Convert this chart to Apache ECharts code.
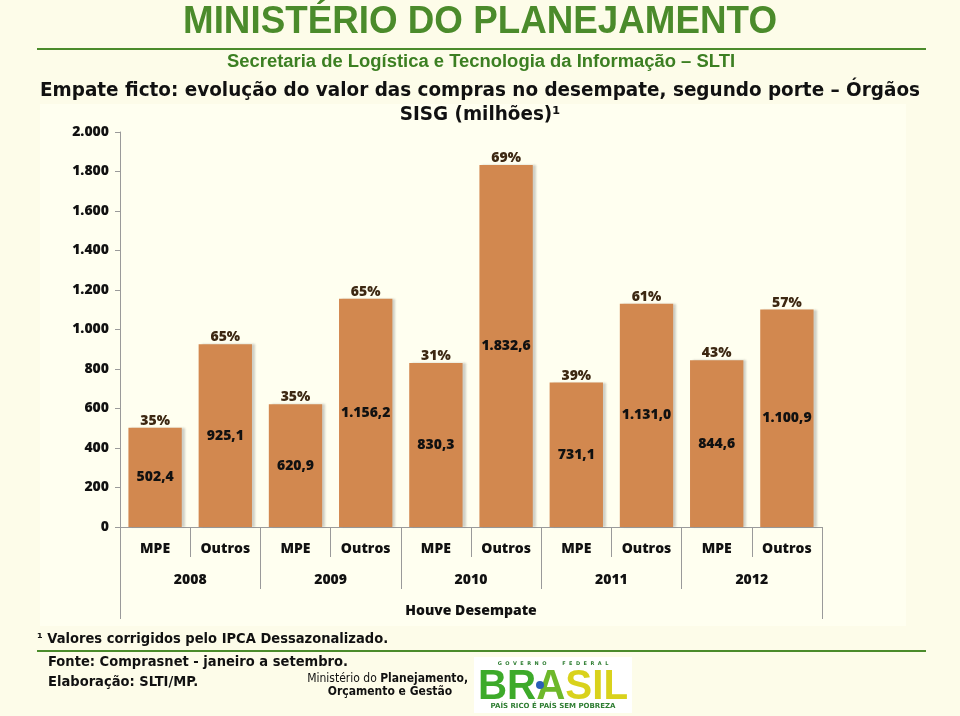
<!DOCTYPE html>
<html>
<head>
<meta charset="utf-8">
<script src="https://cdn.jsdelivr.net/npm/echarts@6/dist/echarts.min.js"></script>
<style>
html,body{margin:0;padding:0;background:#FDFCE9;}
#chart{width:960px;height:716px;}
</style>
</head>
<body>
<div id="chart"></div>
<script>
var categories = ['MPE','Outros','MPE','Outros','MPE','Outros','MPE','Outros','MPE','Outros'];
var years = ['2008','2009','2010','2011','2012'];
var groupLabel = ['Houve Desempate'];
var values = [502.4, 925.1, 620.9, 1156.2, 830.3, 1832.6, 731.1, 1131.0, 844.6, 1100.9];
var percents = ['35%','65%','35%','65%','31%','69%','39%','61%','43%','57%'];
var yTicks = [0, 200, 400, 600, 800, 1000, 1200, 1400, 1600, 1800, 2000];

function fmtThousands(v){
  var s = String(Math.round(v));
  return s.replace(/\B(?=(\d{3})+(?!\d))/g, '.');
}
function fmtValue(v){
  var parts = v.toFixed(1).split('.');
  return fmtThousands(+parts[0]) + ',' + parts[1];
}

var mctx = document.createElement('canvas').getContext('2d');
function fitScale(text, font, target){
  mctx.font = font;
  var w = mctx.measureText(text).width;
  return w > 0 ? target / w : 1;
}

var chart = echarts.init(document.getElementById('chart'), null, {renderer:'canvas'});
var lblFont = '"Open Sans",sans-serif';
var lblWeight = 800;
var headFont = '"DejaVu Sans Condensed","DejaVu Sans",sans-serif';
var arialFont = '"Liberation Sans",Arial,sans-serif';

function fitText(txt, font, cx, top, target, fill, align){
  var s = fitScale(txt, font, target);
  return {type:'text', x:cx, y:top, scaleX:s, originX:0, originY:0,
    style:{text:txt, font:font, fill:fill, align:align || 'center', verticalAlign:'top'}};
}

var tTitle = 'MINISTÉRIO DO PLANEJAMENTO';
var fTitle = 'bold 38px ' + arialFont;
var tSub = 'Secretaria de Logística e Tecnologia da Informação – SLTI';
var fSub = 'bold 18px ' + arialFont;
var tHead1 = 'Empate ficto: evolução do valor das compras no desempate, segundo porte – Órgãos';
var fHead = 'bold 19px ' + headFont;
var tHead2 = 'SISG (milhões)¹';
var sHead = fitScale(tHead1, fHead, 880);
var fFoot = 'bold 14px ' + headFont;
var sFoot = fitScale('Fonte: Comprasnet - janeiro a setembro.', fFoot, 300);
var fLogo = 'bold 42px ' + arialFont;
var sLogo = fitScale('BRASIL', fLogo, 150);

var option = {
  backgroundColor: '#FDFCE9',
  animation: false,
  graphic: [
    {type:'rect', z:-10, shape:{x:40,y:104,width:866,height:522}, style:{fill:'#FFFFF0'}},
    fitText(tTitle, fTitle, 480, 4, 594, '#4B8B2B'),
    {type:'line', shape:{x1:37,y1:49,x2:926,y2:49}, style:{stroke:'#4B8B2B', lineWidth:2}},
    fitText(tSub, fSub, 481, 53, 508, '#3C7F22'),
    {type:'text', x:480, y:82, scaleX:sHead, style:{text:tHead1, font:fHead, fill:'#111', align:'center', verticalAlign:'top'}},
    {type:'text', x:480, y:106, scaleX:sHead, style:{text:tHead2, font:fHead, fill:'#111', align:'center', verticalAlign:'top'}},
    {type:'text', x:37, y:632, scaleX:sFoot, style:{text:'¹ Valores corrigidos pelo IPCA Dessazonalizado.', font:fFoot, fill:'#111', align:'left', verticalAlign:'top'}},
    {type:'line', shape:{x1:37,y1:651,x2:926,y2:651}, style:{stroke:'#4B8B2B', lineWidth:2}},
    {type:'text', x:48, y:655, scaleX:sFoot, style:{text:'Fonte: Comprasnet - janeiro a setembro.', font:fFoot, fill:'#111', align:'left', verticalAlign:'top'}},
    {type:'text', x:48, y:675, scaleX:sFoot, style:{text:'Elaboração: SLTI/MP.', font:fFoot, fill:'#111', align:'left', verticalAlign:'top'}},
    {type:'text', x:468, y:673, style:{text:'{n|Ministério do }{b|Planejamento,}', align:'right', rich:{n:{font:'12px ' + headFont, fill:'#111'}, b:{font:'bold 12px ' + headFont, fill:'#111'}}}},
    {type:'text', x:390, y:686, style:{text:'Orçamento e Gestão', align:'center', font:'bold 12px ' + headFont, fill:'#111'}},
    {type:'rect', shape:{x:474,y:657,width:158,height:56}, style:{fill:'#FFFFFF'}},
    {type:'text', x:553, y:661, style:{text:'G  O  V  E  R  N  O         F  E  D  E  R  A  L', align:'center', font:'bold 5px "DejaVu Sans",sans-serif', fill:'#2E7D32'}},
    {type:'text', x:553, y:666, scaleX:sLogo, style:{text:'{g|BR}{b|A}{y|SIL}', align:'center', verticalAlign:'top', rich:{
      g:{font:fLogo, fill:'#3DAA2A'},
      b:{font:fLogo, fill:'#6DB82A'},
      y:{font:fLogo, fill:'#D9D21C'}}}},
    {type:'circle', shape:{cx:540, cy:685, r:4}, style:{fill:'#2A5FB8'}},
    {type:'text', x:553, y:703, style:{text:'PAÍS RICO É PAÍS SEM POBREZA', align:'center', font:'bold 7px "DejaVu Sans",sans-serif', fill:'#2E7D32'}}
  ],
  grid: {left:120, right:138, top:132, bottom:189, containLabel:false},
  xAxis: [
    {type:'category', data:categories, position:'bottom',
     axisLine:{show:true, lineStyle:{color:'#9A9A9A', width:1}},
     axisTick:{show:true, length:30, lineStyle:{color:'#9A9A9A'}},
     axisLabel:{margin:15, fontFamily:lblFont, fontWeight:lblWeight, fontSize:14, color:'#111'}},
    {type:'category', data:years, position:'bottom', gridIndex:0,
     axisLine:{show:false},
     axisTick:{show:true, length:62, lineStyle:{color:'#9A9A9A'}},
     axisLabel:{margin:46, fontFamily:lblFont, fontWeight:lblWeight, fontSize:14, color:'#111'}},
    {type:'category', data:groupLabel, position:'bottom', gridIndex:0,
     axisLine:{show:false},
     axisTick:{show:true, length:92, lineStyle:{color:'#9A9A9A'}},
     axisLabel:{margin:77, fontFamily:lblFont, fontWeight:lblWeight, fontSize:14, color:'#111'}}
  ],
  yAxis: {
    type:'value', min:0, max:2000, interval:200,
    axisLine:{show:true, lineStyle:{color:'#9A9A9A'}},
    axisTick:{show:true, length:5, lineStyle:{color:'#9A9A9A'}},
    splitLine:{show:false},
    axisLabel:{margin:11, fontFamily:lblFont, fontWeight:lblWeight, fontSize:14, color:'#111',
      formatter:function(v){ return yTicks.indexOf(v) >= 0 ? fmtThousands(v) : ''; }}
  },
  series: [
    {type:'bar', data:values, barCategoryGap:'24%', xAxisIndex:0,
     itemStyle:{color:'#D2884F', shadowColor:'rgba(120,120,120,0.35)', shadowOffsetX:3, shadowOffsetY:0, shadowBlur:2},
     label:{show:true, position:'inside', fontFamily:lblFont, fontWeight:lblWeight, fontSize:14, color:'#111',
       formatter:function(p){ return fmtValue(p.value); }}},
    {type:'bar', data:values, barGap:'-100%', barCategoryGap:'24%', xAxisIndex:0, silent:true,
     itemStyle:{color:'rgba(0,0,0,0)'},
     label:{show:true, position:'top', distance:0, fontFamily:lblFont, fontWeight:lblWeight, fontSize:14, color:'#3D2812',
       formatter:function(p){ return percents[p.dataIndex]; }}}
  ]
};
chart.setOption(option);
</script>
</body>
</html>
